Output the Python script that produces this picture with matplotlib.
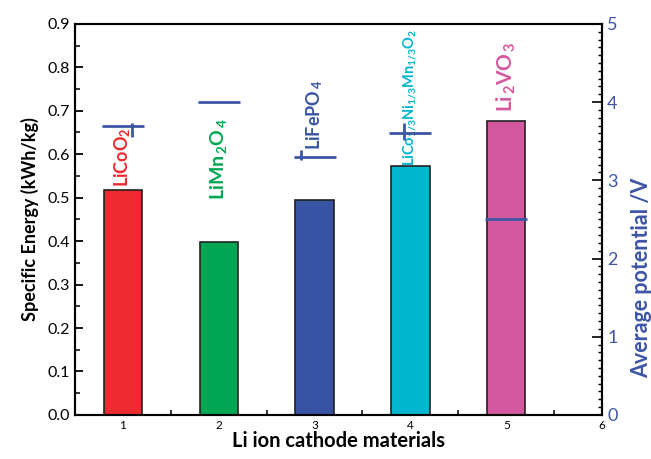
import matplotlib
matplotlib.use("Agg")
import matplotlib.pyplot as plt
from matplotlib.ticker import MultipleLocator, FormatStrFormatter

plt.rcParams['font.family'] = ['Lato', 'DejaVu Sans']
plt.rcParams['mathtext.fontset'] = 'custom'
plt.rcParams['mathtext.rm'] = 'Lato'
plt.rcParams['mathtext.it'] = 'Lato'
plt.rcParams['mathtext.bf'] = 'Lato:bold'

positions = [1, 2, 3, 4, 5]
materials = [r'LiCoO$_{\mathbf{2}}$', r'LiMn$_{\,\mathbf{2}}$O$_{\,\mathbf{4}}$', r'LiFePO$_{\,\mathbf{4}}$',
             r'LiCo$_{\mathbf{1/3}}$Ni$_{\mathbf{1/3}}$Mn$_{\mathbf{1/3}}$O$_{\mathbf{2}}$',
             r'Li$_{\,\mathbf{2}}$VO$_{\,\mathbf{3}}$']
energy = [0.518, 0.398, 0.494, 0.574, 0.676]
potential = [3.7, 4.0, 3.3, 3.6, 2.5]
colors = ['#ed2a30', '#00a651', '#3853a4', '#00b5cf', '#d4589f']
label_y = [0.525, 0.495, 0.61, 0.572, 0.697]
label_size = [13, 14, 13, 10.5, 15]
xticks = [1, 2, 3, 4, 5, 6]
# short vertical strokes beside some potential marks
stroke_x = [1.10, 2.86, 3.93]
stroke_v = [3.64, 3.32, 3.63]
stroke_len = [14, 10, 17]

blue = '#3d55a5'

fig = plt.figure(figsize=(6.51, 4.59), dpi=100)
ax = fig.add_axes([0.115, 0.096, 0.81, 0.852])
ax.bar(positions, energy, width=0.4, color=colors, edgecolor='#222222', linewidth=1.2, zorder=2)
ax.set_xlim(0.5, 6)
ax.set_ylim(0, 0.9)
ax.set_xticks(xticks)
ax.set_xticklabels([str(t) for t in xticks], fontsize=8.5)
ax.xaxis.set_minor_locator(MultipleLocator(0.5))
ax.yaxis.set_major_locator(MultipleLocator(0.1))
ax.yaxis.set_minor_locator(MultipleLocator(0.05))
ax.yaxis.set_major_formatter(FormatStrFormatter('%.1f'))
ax.set_xlabel('Li ion cathode materials', fontsize=14.5, fontweight='bold', labelpad=0)
ax.set_ylabel('Specific Energy (kWh/kg)', fontsize=13, fontweight='bold', labelpad=6)
for s in ax.spines.values():
    s.set_linewidth(1.5)

for x, y, lab, c, fs in zip(positions, label_y, materials, colors, label_size):
    ax.text(x, y, lab, rotation=90, ha='center', va='bottom', color=c,
            fontsize=fs, fontweight='bold', zorder=3)

ax2 = ax.twinx()
ax2.set_ylim(0, 5)
ax2.plot(positions, potential, linestyle='none', marker='_', markersize=30,
         markeredgewidth=2.0, color=blue, zorder=4)
for sx, sv, sl in zip(stroke_x, stroke_v, stroke_len):
    ax2.plot([sx], [sv], linestyle='none', marker='|', markersize=sl * 0.72,
             markeredgewidth=2.0, color=blue, zorder=4)
ax2.yaxis.set_major_locator(MultipleLocator(1))
ax2.yaxis.set_minor_locator(MultipleLocator(0.1))
ax2.tick_params(axis='y', which='major', direction='in', length=7, width=1.2,
                labelsize=13, labelcolor=blue)
ax2.tick_params(axis='y', which='minor', direction='in', length=3, width=1.0)
ax2.set_ylabel('Average potential /V', fontsize=15.5, fontweight='bold', color=blue)
ax2.yaxis.set_label_coords(1.055, 0.35)
for s in ax2.spines.values():
    s.set_linewidth(1.5)

ax.tick_params(axis='y', which='major', direction='in', length=6, width=1.3,
               labelsize=11.5, left=True, right=False)
ax.tick_params(axis='y', which='minor', direction='in', length=3.5, width=1.1,
               left=True, right=False)
ax.tick_params(axis='x', which='major', direction='in', length=6, width=1.3, top=False)
ax.tick_params(axis='x', which='minor', direction='in', length=3.5, width=1.1, top=False)

fig.savefig('out.png', dpi=100)
